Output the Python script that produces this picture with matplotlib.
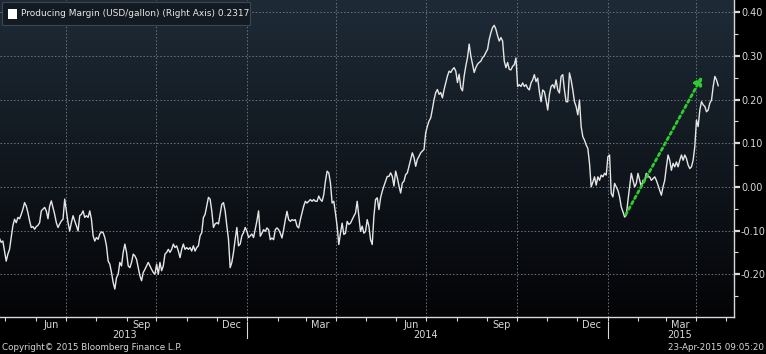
import matplotlib
matplotlib.use("Agg")
import matplotlib.pyplot as plt
import matplotlib.dates as mdates
import matplotlib.transforms as mtransforms
import numpy as np
import pandas as pd

# --- data (daily, Apr-2013 .. 23-Apr-2015) ---
START, END = "2013-04-25", "2015-04-23"

margin_2013 = [
    -0.118, -0.127, -0.124, -0.147, -0.170, -0.154, -0.143, -0.116, -0.089, -0.074,
    -0.082, -0.070, -0.073, -0.063, -0.051, -0.036, -0.044, -0.059, -0.078, -0.093,
    -0.091, -0.097, -0.091, -0.088, -0.082, -0.055, -0.051, -0.047, -0.055, -0.073,
    -0.044, -0.032, -0.047, -0.063, -0.082, -0.093, -0.085, -0.078, -0.074, -0.028,
    -0.055, -0.082, -0.101, -0.082, -0.066, -0.078, -0.089, -0.101, -0.066, -0.063,
    -0.055, -0.070, -0.066, -0.070, -0.055, -0.074, -0.112, -0.124, -0.116, -0.120,
    -0.108, -0.103, -0.105, -0.116, -0.135, -0.170, -0.177, -0.196, -0.219, -0.234,
    -0.208, -0.200, -0.173, -0.181, -0.150, -0.131, -0.150, -0.181, -0.185, -0.173,
    -0.154, -0.158, -0.166, -0.185, -0.204, -0.215, -0.196, -0.189, -0.181, -0.173,
    -0.181, -0.189, -0.196, -0.200, -0.177, -0.200, -0.173, -0.192, -0.181, -0.154,
    -0.150, -0.143, -0.150, -0.143, -0.131, -0.139, -0.135, -0.147, -0.162, -0.143,
    -0.131, -0.143, -0.139, -0.143, -0.139, -0.147, -0.135, -0.147, -0.139, -0.135,
    -0.112, -0.105, -0.070, -0.063, -0.044, -0.024, -0.028, -0.055, -0.093, -0.085,
    -0.082, -0.085, -0.063, -0.040, -0.036, -0.055, -0.089, -0.120, -0.185, -0.173,
    -0.150, -0.120, -0.093, -0.135, -0.131, -0.112, -0.105, -0.093, -0.101, -0.116,
    -0.112, -0.108, -0.116, -0.097, -0.078, -0.055,
]

margin_2014 = [
    -0.113, -0.106, -0.098, -0.102, -0.094, -0.098, -0.121, -0.117, -0.121, -0.098,
    -0.094, -0.098, -0.106, -0.117, -0.098, -0.075, -0.056, -0.075, -0.079, -0.075,
    -0.077, -0.075, -0.090, -0.094, -0.075, -0.060, -0.044, -0.033, -0.037, -0.033,
    -0.029, -0.033, -0.029, -0.033, -0.033, -0.021, -0.029, -0.033, -0.018, 0.013,
    0.036, 0.032, 0.009, -0.037, -0.033, -0.060, -0.090, -0.132, -0.106, -0.083,
    -0.109, -0.106, -0.079, -0.086, -0.083, -0.075, -0.067, -0.060, -0.033, -0.067,
    -0.102, -0.090, -0.106, -0.102, -0.075, -0.090, -0.121, -0.132, -0.067, -0.029,
    -0.025, -0.052, -0.025, -0.010, 0.002, 0.013, 0.024, 0.024, 0.032, 0.024,
    0.002, 0.036, 0.021, 0.002, -0.014, 0.009, 0.013, 0.028, 0.032, 0.047,
    0.063, 0.078, 0.067, 0.047, 0.063, 0.070, 0.078, 0.082, 0.086, 0.124,
    0.139, 0.151, 0.158, 0.178, 0.200, 0.216, 0.223, 0.212, 0.216, 0.204,
    0.223, 0.239, 0.254, 0.265, 0.262, 0.269, 0.273, 0.265, 0.239, 0.258,
    0.227, 0.220, 0.254, 0.277, 0.296, 0.327, 0.300, 0.281, 0.262, 0.273,
    0.281, 0.285, 0.288, 0.296, 0.300, 0.308, 0.315, 0.338, 0.353, 0.365,
    0.370, 0.361, 0.346, 0.334, 0.342, 0.334, 0.288, 0.273, 0.285, 0.269,
]

margin_2015 = [
    0.268, 0.276, 0.280, 0.295, 0.230, 0.234, 0.230, 0.238, 0.230, 0.234,
    0.226, 0.222, 0.238, 0.245, 0.257, 0.241, 0.249, 0.218, 0.195, 0.222,
    0.218, 0.199, 0.176, 0.211, 0.230, 0.234, 0.226, 0.245, 0.222, 0.215,
    0.253, 0.257, 0.222, 0.195, 0.195, 0.261, 0.245, 0.222, 0.195, 0.184,
    0.165, 0.199, 0.138, 0.115, 0.107, 0.096, 0.088, 0.054, 0.000, 0.011,
    0.023, 0.004, 0.023, 0.015, 0.027, 0.023, 0.031, 0.027, 0.069, 0.073,
    -0.015, -0.023, 0.008, 0.000, -0.008, -0.023, -0.046, -0.057, -0.069, -0.065,
    -0.031, 0.000, 0.031, 0.015, 0.000, 0.008, 0.031, 0.015, 0.000, 0.015,
    0.015, 0.031, 0.023, 0.023, 0.015, 0.019, 0.023, 0.015, 0.004, -0.008,
    -0.019, 0.000, 0.015, 0.046, 0.073, 0.061, 0.038, 0.054, 0.046, 0.057,
    0.046, 0.061, 0.073, 0.061, 0.073, 0.065, 0.050, 0.042, 0.046, 0.061,
    0.092, 0.153, 0.138, 0.176, 0.195, 0.188, 0.184, 0.172, 0.176, 0.192,
    0.199, 0.230, 0.253, 0.245, 0.2317,
]

margin = np.array(margin_2013 + margin_2014 + margin_2015)
dates = pd.date_range(START, END, periods=len(margin))

# trend arrow drawn on the screen
arrow_start = (pd.Timestamp("2015-01-18"), -0.069)
arrow_end = (pd.Timestamp("2015-04-08"), 0.258)

year_labels = ["2013", "2014", "2015"]
year_label_dates = ["2013-08-30", "2014-07-01", "2015-03-15"]
year_breaks = ["2014-01-01", "2015-01-01"]
last_value = margin[-1]

# --- figure ---
W, H = 766, 354
fig = plt.figure(figsize=(W / 100, H / 100), dpi=100, facecolor="black")
rect = [0, 1 - 317 / H, 734 / W, 317 / H]

# gradient background behind the plot
bg = fig.add_axes(rect, zorder=0)
grad = np.linspace(0, 1, 256).reshape(-1, 1)
top = np.array([30, 43, 55]) / 255
bot = np.array([4, 4, 6]) / 255
img = top[None, None, :] * (1 - grad[..., None]) + bot[None, None, :] * grad[..., None]
bg.imshow(img, aspect="auto", extent=[0, 1, 0, 1])
bg.axis("off")

ax = fig.add_axes(rect, zorder=1)
ax.set_facecolor("none")
ax.plot(dates, margin, color="#e6e6e6", lw=1.0, zorder=3)

ax.annotate("", xy=arrow_end, xytext=arrow_start,
            arrowprops=dict(arrowstyle="-|>,head_length=0.45,head_width=0.25",
                            color="#2ecc2e", lw=2.0, linestyle=(0, (1, 1.2))),
            zorder=4)

ax.set_xlim(pd.Timestamp("2013-04-25 12:00"), pd.Timestamp("2015-05-09"))
ax.set_ylim(-0.298, 0.428)

# grid
grid_kw = dict(color="#6b747e", lw=0.7, ls=(0, (1.5, 2)), zorder=1)
for y in np.arange(-0.2, 0.41, 0.1):
    ax.axhline(y, **grid_kw)
for d in pd.date_range("2013-07-01", "2015-04-01", freq="QS"):
    ax.axvline(d, **grid_kw)

# y axis on the right
ax.yaxis.tick_right()
ax.set_yticks(np.arange(-0.2, 0.41, 0.1))
ax.set_yticks(np.arange(-0.25, 0.41, 0.05), minor=True)
ax.yaxis.set_major_formatter(matplotlib.ticker.FormatStrFormatter("%.2f"))
ax.tick_params(axis="y", which="major", colors="#d8d8d8", labelsize=7,
               length=4, width=1.6, pad=1)
ax.tick_params(axis="y", which="minor", colors="#d8d8d8", length=3, width=0.8)

# x axis: monthly ticks, quarterly month labels in mid-month
ax.xaxis.set_major_locator(mdates.MonthLocator())
ax.xaxis.set_major_formatter(matplotlib.ticker.NullFormatter())
ax.xaxis.set_minor_locator(mdates.MonthLocator(bymonth=[3, 6, 9, 12], bymonthday=16))
ax.xaxis.set_minor_formatter(mdates.DateFormatter("%b"))
ax.tick_params(axis="x", which="major", colors="#d8d8d8", length=3, width=0.8)
ax.tick_params(axis="x", which="minor", colors="#d8d8d8", length=0, labelsize=7, pad=2)

for s in ["top", "left"]:
    ax.spines[s].set_visible(False)
for s in ["right", "bottom"]:
    ax.spines[s].set_color("#d8d8d8")
    ax.spines[s].set_linewidth(1.0)

trans = mtransforms.blended_transform_factory(ax.transData, ax.transAxes)
for lab, d in zip(year_labels, year_label_dates):
    ax.text(pd.Timestamp(d), -0.056, lab, transform=trans, ha="center", va="center",
            color="#d8d8d8", fontsize=7)
for d in year_breaks:
    ax.plot([pd.Timestamp(d)] * 2, [-0.015, -0.065], transform=trans,
            color="#d8d8d8", lw=0.8, clip_on=False)

# legend box
fig.patches.append(plt.Rectangle((2 / W, 1 - 25 / H), 248 / W, 23 / H,
                                 transform=fig.transFigure, facecolor="#131a21",
                                 edgecolor="#3c4650", lw=0.8, zorder=5))
fig.patches.append(plt.Rectangle((8 / W, 1 - 19 / H), 9 / W, 10 / H,
                                 transform=fig.transFigure, facecolor="white",
                                 edgecolor="none", zorder=6))
fig.text(21 / W, 1 - 14 / H,
         f"Producing Margin (USD/gallon) (Right Axis) {last_value:.4f}",
         color="#e8e8e8", fontsize=6.5, va="center", ha="left", zorder=7)

# footer
fig.text(2 / W, 1 - 347 / H, "Copyright\u00a9 2015 Bloomberg Finance L.P.",
         color="#d8d8d8", fontsize=6.3, va="center", ha="left")
fig.text(764 / W, 1 - 347 / H, "23-Apr-2015 09:05:20",
         color="#d8d8d8", fontsize=6.3, va="center", ha="right")

fig.savefig("out.png", dpi=100, facecolor="black")
